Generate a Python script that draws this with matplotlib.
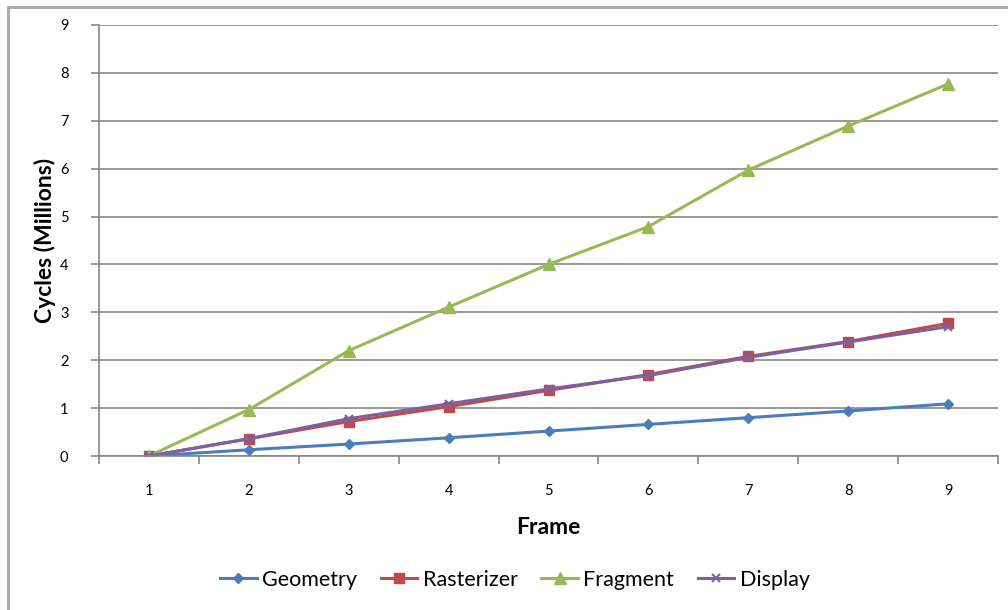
import matplotlib.pyplot as plt
import numpy as np
from matplotlib.patches import Rectangle

frames = [1, 2, 3, 4, 5, 6, 7, 8, 9]
geometry = [0, 0.13, 0.25, 0.38, 0.52, 0.66, 0.80, 0.94, 1.09]
rasterizer = [0, 0.36, 0.72, 1.03, 1.37, 1.70, 2.08, 2.39, 2.77]
fragment = [0, 0.97, 2.20, 3.11, 4.00, 4.79, 5.97, 6.89, 7.77]
display = [0, 0.36, 0.78, 1.09, 1.40, 1.68, 2.06, 2.38, 2.70]
y_ticks = [0, 1, 2, 3, 4, 5, 6, 7, 8, 9]

plt.rcParams['font.family'] = ['Lato', 'DejaVu Sans']

fig = plt.figure(figsize=(10.08, 6.10), dpi=100)
# outer chart border (only left and top visible in the reference)
top = 1 - 7/610
fig.patches.append(Rectangle((8/1008, -0.2), 2.0, top + 0.2, transform=fig.transFigure,
                             fill=False, edgecolor='#ababab', linewidth=2.2))

ax = fig.add_axes([99/1008, 1 - 456/610, (998 - 99)/1008, (456 - 25)/610])

ax.plot(frames, geometry, color='#4a7ebb', marker='D', markersize=5.5, linewidth=2.2, label='Geometry')
ax.plot(frames, rasterizer, color='#be4b48', marker='s', markersize=7, linewidth=2.2, label='Rasterizer')
ax.plot(frames, fragment, color='#98b954', marker='^', markersize=8, linewidth=2.2, label='Fragment')
ax.plot(frames, display, color='#7d60a0', marker='x', markersize=6, markeredgewidth=1.5, linewidth=2.2, label='Display')

ax.set_xlim(0.5, 9.5)
ax.set_ylim(0, 9)
ax.set_yticks(y_ticks)
ax.set_xticks(frames)
ax.set_xticks(np.arange(0.5, 9.6, 1), minor=True)
ax.tick_params(axis='x', which='major', length=0, pad=20, labelsize=10.5)
ax.tick_params(axis='x', which='minor', length=6, width=1.2, color='#868686', direction='out')
ax.tick_params(axis='y', length=6, width=1.2, color='#868686', direction='out', pad=16, labelsize=10.5)

ax.grid(axis='y', color='#868686', linewidth=1.2)
ax.set_axisbelow(True)
for side in ['top', 'right']:
    ax.spines[side].set_visible(False)
for side in ['left', 'bottom']:
    ax.spines[side].set_color('#868686')
    ax.spines[side].set_linewidth(1.2)

ax.set_xlabel('Frame', fontsize=16.5, fontweight='bold', labelpad=14)
ax.set_ylabel('Cycles (Millions)', fontsize=16.5, fontweight='bold', labelpad=3)

fig.legend(loc='center', bbox_to_anchor=(515/1008, 1 - 580/610), ncol=4, frameon=False,
           fontsize=15.5, handlelength=1.7, handletextpad=0.25, columnspacing=1.1)

fig.savefig('out.png', dpi=100)
